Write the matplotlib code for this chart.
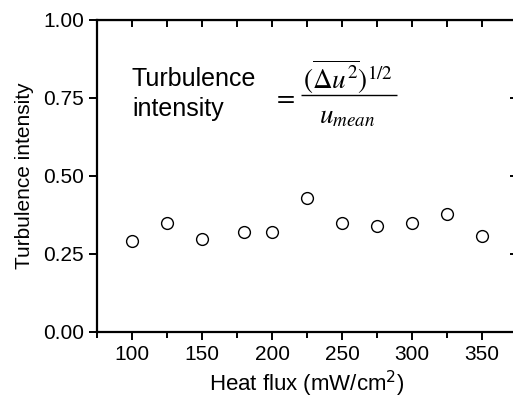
import numpy as np
import matplotlib.pyplot as plt
from matplotlib.ticker import MultipleLocator

plt.rcParams['font.family'] = ['Liberation Sans', 'DejaVu Sans']

heat_flux = [100, 125, 150, 180, 200, 225, 250, 275, 300, 325, 350]
intensity = [0.292, 0.349, 0.298, 0.320, 0.320, 0.430, 0.349, 0.340, 0.349, 0.378, 0.309]

fig = plt.figure(figsize=(5.13, 3.99), dpi=100)
ax = fig.add_axes([0.189, 0.168, 0.819, 0.782])

ax.plot(heat_flux, intensity, 'o', mfc='white', mec='black', ms=8.5, mew=1.0)

ax.set_xlim(75, 375)
ax.set_ylim(0, 1.0)
ax.xaxis.set_major_locator(MultipleLocator(50))
ax.xaxis.set_minor_locator(MultipleLocator(25))
ax.yaxis.set_major_locator(MultipleLocator(0.25))
ax.yaxis.set_major_formatter(plt.FormatStrFormatter('%.2f'))

for s in ax.spines.values():
    s.set_linewidth(1.6)
ax.tick_params(which='both', direction='out', top=False, right=False,
               labelsize=15, width=1.4)
ax.tick_params(which='major', length=6)
ax.tick_params(which='minor', length=4)

# mirrored inward ticks on top and right
sec_x = ax.secondary_xaxis('top')
sec_x.xaxis.set_major_locator(MultipleLocator(25))
sec_x.tick_params(direction='in', length=5, width=1.4, labeltop=False)
sec_y = ax.secondary_yaxis('right')
sec_y.yaxis.set_major_locator(MultipleLocator(0.25))
sec_y.tick_params(direction='in', length=5, width=1.4, labelright=False)

ax.set_xlabel('Heat flux (mW/cm$^2$)', fontsize=16, labelpad=3)
ax.set_ylabel('Turbulence intensity', fontsize=15, labelpad=6)

# definition of turbulence intensity, drawn as a hand-built fraction
ax.text(100, 0.763, 'Turbulence\nintensity', fontsize=18, ha='left', va='center',
        linespacing=1.3)
ax.text(209, 0.753, r'$=$', fontsize=19, math_fontfamily='stix', ha='center', va='center')
frac_x0, frac_x1, frac_y = 220.5, 289.5, 0.760
ax.hlines(frac_y, frac_x0, frac_x1, color='black', lw=1.0)
ax.text(254, 0.779, r'$(\overline{\Delta u^2})^{1/2}$', fontsize=19.5,
        math_fontfamily='stix', ha='center', va='baseline')
ax.text(253.5, 0.670, r'$u_{mean}$', fontsize=19.5,
        math_fontfamily='stix', ha='center', va='baseline')

fig.savefig('out.png', dpi=100)
